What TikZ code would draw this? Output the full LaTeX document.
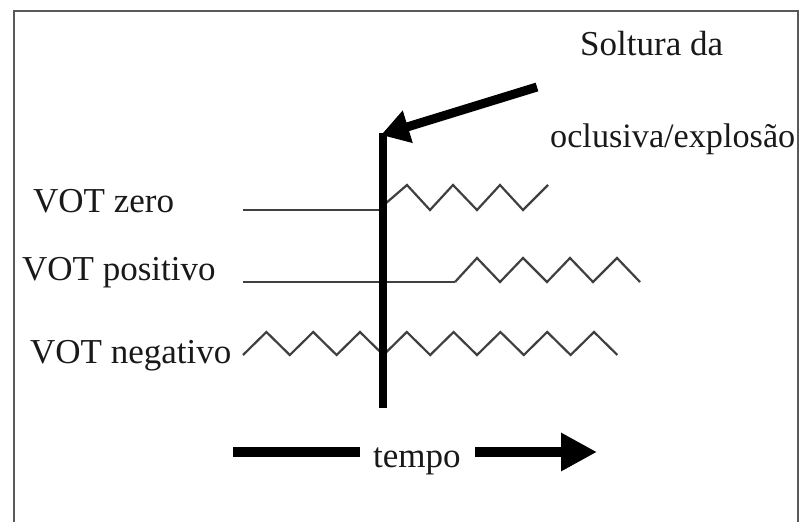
\documentclass[tikz,border=0pt]{standalone}
\usepackage{fontspec}
\setmainfont{Liberation Serif}
\usetikzlibrary{arrows.meta}
\tikzset{
  lbl/.style={anchor=base west, inner sep=0pt, font=\fontsize{35}{40}\selectfont, text=black!90},
  thinline/.style={line width=2pt, draw=black!75, line join=miter},
  wave/.style={line width=2.2pt, draw=black!75, line join=miter},
  bar/.style={line width=8pt, draw=black},
  bigarrow/.style={line width=9pt, draw=black, -{Triangle[length=28pt,width=32pt]}},
  timearrow/.style={line width=10pt, draw=black},
  frame/.style={line width=2.2pt, draw=black!65}
}
\begin{document}
\begin{tikzpicture}[x=1pt,y=-1pt]
\useasboundingbox (0,0) rectangle (800,522);
\fill[white] (0,0) rectangle (800,522);
% frame
\draw[frame] (14,522) -- (14,11) -- (798,11) -- (798,522);

% labels
\node[lbl] (soltura) at (580,55) {Soltura da};
\node[lbl, font=\fontsize{34.2}{40}\selectfont] (oclusiva) at (550,147) {oclusiva/explosão};
\node[lbl] (zero) at (33,212) {VOT zero};
\node[lbl] (pos) at (22,280) {VOT positivo};
\node[lbl] (neg) at (30,363) {VOT negativo};
\node[lbl] (tempo) at (373,467) {tempo};

% VOT zero
\coordinate (z0) at (243,210);
\coordinate (z1) at (383,210);
\draw[thinline] (z0) -- (z1);
\draw[wave] (385,204) -- (407,185) -- (430,210) -- (453,185) -- (477,210) -- (500,185) -- (523,210) -- (548,185);

% VOT positivo
\coordinate (p0) at (243,282);
\coordinate (p1) at (455,282);
\draw[thinline] (p0) -- (p1);
\draw[wave] (p1) -- (477,258) -- (500,282) -- (523,258) -- (547,282) -- (570,258) -- (593,282) -- (617,258) -- (640,282);

% VOT negativo
\draw[wave] (243,355)
  \foreach \i in {1,...,16} {
    -- ({243+23.4*\i}, {ifthenelse(mod(\i,2)==1,332,355)})
  };

% release line and arrow
\coordinate (rel) at (381,135);
\coordinate (bot) at (383,408);
\coordinate (src) at (537,87);
\draw[bar] (bot) -- (383,133);
\draw[bigarrow] (src) -- (rel);

% time arrow
\coordinate (t0) at (233,452);
\coordinate (t1) at (360,452);
\coordinate (t2) at (475,452);
\coordinate (t3) at (597,452);
\draw[timearrow] (t0) -- (t1);
\draw[timearrow, -{Triangle[length=36pt,width=36pt]}] (t2) -- (t3);
\end{tikzpicture}
\end{document}
